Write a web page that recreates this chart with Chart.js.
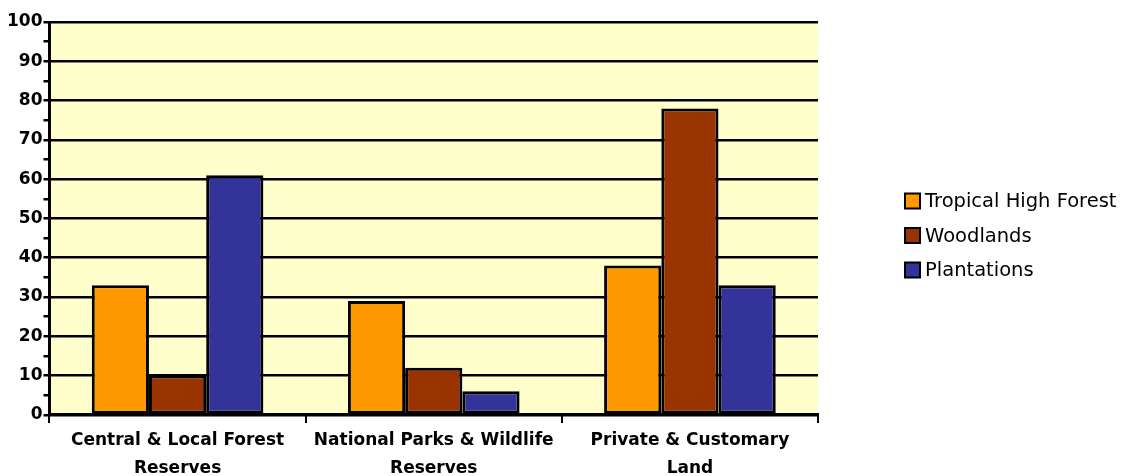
<!DOCTYPE html>
<html><head><meta charset="utf-8">
<script src="https://cdn.jsdelivr.net/npm/chart.js@4"></script>
<style>html,body{margin:0;padding:0;background:#fff;overflow:hidden}#wrap{width:1122px;height:487px;position:relative}</style>
</head><body><div id="wrap"><canvas id="c"></canvas></div>
<script>
const categories = [["Central & Local Forest","Reserves"],["National Parks & Wildlife","Reserves"],["Private & Customary","Land"]];
const seriesNames = ["Tropical High Forest","Woodlands","Plantations"];
const tropicalHighForest = [33, 29, 38];
const woodlands = [10, 12, 78];
const plantations = [61, 6, 33];
const yTicks = [0,10,20,30,40,50,60,70,80,90,100];
const colors = ["#FF9900","#993300","#333399"];

const bgPlugin = {id:'bg', beforeDraw(chart){const a=chart.chartArea,ctx=chart.ctx;ctx.save();ctx.fillStyle='#FFFFCC';ctx.fillRect(a.left,a.top,a.right-a.left,a.bottom-a.top);ctx.restore();}};

const legendPlugin = {id:'customLegend', afterDraw(chart){
  const ctx=chart.ctx; ctx.save();
  const x=905, y0=201, dy=34.5, s=15;
  ctx.font='19.5px "DejaVu Sans"'; ctx.textBaseline='middle'; ctx.fillStyle='#000';
  chart.data.datasets.forEach((d,i)=>{
    const y=y0+i*dy;
    ctx.fillStyle=d.backgroundColor; ctx.fillRect(x,y-s/2,s,s);
    ctx.lineWidth=2; ctx.strokeStyle='#000'; ctx.strokeRect(x,y-s/2,s,s);
    ctx.fillStyle='#000'; ctx.fillText(d.label, x+s+5, y+1);
  });
  ctx.restore();
}};

new Chart(document.getElementById('c'), {
  type:'bar',
  data:{labels:categories, datasets:[
    {label:seriesNames[0], data:tropicalHighForest, backgroundColor:colors[0]},
    {label:seriesNames[1], data:woodlands, backgroundColor:colors[1]},
    {label:seriesNames[2], data:plantations, backgroundColor:colors[2]}
  ].map(d=>Object.assign(d,{borderColor:'#000',borderWidth:3,borderSkipped:false,categoryPercentage:0.67,barPercentage:1}))},
  options:{
    responsive:true, maintainAspectRatio:false, animation:false,
    layout:{padding:{top:22,left:6,right:304,bottom:0}},
    plugins:{ legend:{display:false}, tooltip:{enabled:false} },
    scales:{
      x:{grid:{offset:true, drawOnChartArea:false, tickColor:'#000', tickLength:8, lineWidth:2},
         border:{color:'#000', width:3},
         ticks:{color:'#000', font:{family:'DejaVu Sans',size:17,weight:'bold',lineHeight:1.65}, padding:4, maxRotation:0, autoSkip:false}},
      y:{min:0, max:100, ticks:{stepSize:5, color:'#000', font:{family:'DejaVu Sans',size:17,weight:'bold'}, padding:1, autoSkip:false,
           callback:(v)=> yTicks.includes(v) ? String(v) : ''},
         grid:{color:(c)=> (c.tick && c.tick.value%10===0) ? '#000' : 'rgba(0,0,0,0)', tickColor:'#000', tickLength:6, lineWidth:2.5},
         border:{color:'#000', width:3}}
    }
  },
  plugins:[bgPlugin, legendPlugin]
});
</script></body></html>
